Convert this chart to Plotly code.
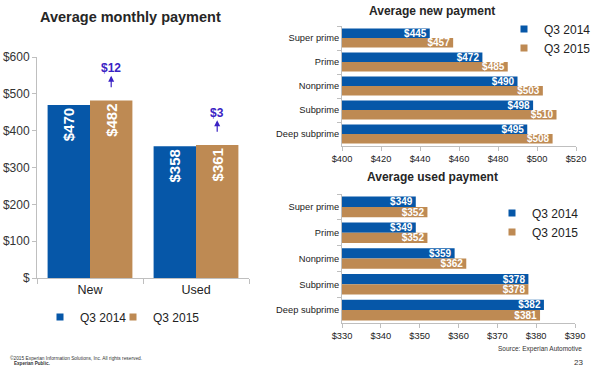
import plotly.graph_objects as go

# ---------------- data ----------------
vehicle_types = ["New", "Used"]
monthly_q3_2014 = [470, 358]
monthly_q3_2015 = [482, 361]
monthly_change = [12, 3]

tiers = ["Super prime", "Prime", "Nonprime", "Subprime", "Deep subprime"]
new_q3_2014 = [445, 472, 490, 498, 495]
new_q3_2015 = [457, 485, 503, 510, 508]
used_q3_2014 = [349, 349, 359, 378, 382]
used_q3_2015 = [352, 352, 362, 378, 381]

series_names = ["Q3 2014", "Q3 2015"]

left_ticks = [0, 100, 200, 300, 400, 500, 600]
left_ticktext = ["$"] + ["$%d" % v for v in left_ticks[1:]]

# ---------------- style ----------------
W, H = 600, 368
BLUE = "#0657A8"
BROWN = "#BE8A53"
COLORS = [BLUE, BROWN]
ARROW = "#3A22C4"
AXIS = "#BFBFBF"
TXT = "#333333"
FONT = "Arial, Liberation Sans, sans-serif"
BARGAP = 0.2


def px_x(x0, x1):
    return [x0 / W, x1 / W]


def px_y(top, bottom):
    return [1 - bottom / H, 1 - top / H]


def money(vals):
    return ["$%d" % v for v in vals]


fig = go.Figure()

# left chart
for vals, name, col in zip([monthly_q3_2014, monthly_q3_2015], series_names, COLORS):
    fig.add_trace(go.Bar(x=vehicle_types, y=vals, name=name, marker_color=col,
                         text=money(vals), textposition="inside", insidetextanchor="end",
                         textangle=-90, constraintext="none", showlegend=False,
                         textfont=dict(color="white", size=15, family=FONT, weight="bold"),
                         xaxis="x", yaxis="y", hoverinfo="skip"))

# top right chart
for vals, name, col in zip([new_q3_2014, new_q3_2015], series_names, COLORS):
    fig.add_trace(go.Bar(y=tiers, x=vals, orientation="h", name=name, marker_color=col,
                         text=money(vals), textposition="inside", insidetextanchor="end",
                         textangle=0, constraintext="none", showlegend=False,
                         textfont=dict(color="white", size=10, family=FONT, weight="bold"),
                         xaxis="x2", yaxis="y2", hoverinfo="skip"))

# bottom right chart
for vals, name, col in zip([used_q3_2014, used_q3_2015], series_names, COLORS):
    fig.add_trace(go.Bar(y=tiers, x=vals, orientation="h", name=name, marker_color=col,
                         text=money(vals), textposition="inside", insidetextanchor="end",
                         textangle=0, constraintext="none", showlegend=False,
                         textfont=dict(color="white", size=10, family=FONT, weight="bold"),
                         xaxis="x3", yaxis="y3", hoverinfo="skip"))

# legend entries (small square keys, one legend box per panel / item)
legend_assign = [("legend", "legend4"), ("legend2", "legend2"), ("legend3", "legend3")]
for xa, ya, (lg_a, lg_b) in zip(["x", "x2", "x3"], ["y", "y2", "y3"], legend_assign):
    for name, col, lg in zip(series_names, COLORS, [lg_a, lg_b]):
        fig.add_trace(go.Scatter(x=[None], y=[None], mode="markers", name=name,
                                 marker=dict(symbol="square", size=7, color=col),
                                 xaxis=xa, yaxis=ya, legend=lg, hoverinfo="skip"))

axis_common = dict(showline=True, linecolor=AXIS, linewidth=1, ticks="outside", tickcolor=AXIS,
                   showgrid=False, zeroline=False, fixedrange=True, automargin=False)

legend_common = dict(orientation="v", xanchor="left", yanchor="middle", bgcolor="rgba(0,0,0,0)",
                     traceorder="normal", itemwidth=30, font=dict(size=12, color="#222"))

fig.update_layout(
    template="none",
    width=W, height=H, autosize=False,
    margin=dict(l=0, r=0, t=0, b=0, pad=0, autoexpand=False),
    paper_bgcolor="white", plot_bgcolor="white",
    barmode="group", bargap=BARGAP, bargroupgap=0,
    font=dict(family=FONT, color=TXT),
    showlegend=True,
    xaxis=dict(domain=px_x(37, 249), anchor="y", tickson="boundaries", ticklen=5,
               tickfont=dict(size=12.5, color="#222"), **axis_common),
    yaxis=dict(domain=px_y(57, 278), anchor="x", range=[0, 600], tickvals=left_ticks,
               ticktext=left_ticktext, ticklen=4, tickfont=dict(size=12, color=TXT), **axis_common),
    xaxis2=dict(domain=px_x(342, 576), anchor="y2", range=[400, 520], dtick=20, tickprefix="$",
                ticklen=4, tickfont=dict(size=9.3, color="#222"), **axis_common),
    yaxis2=dict(domain=px_y(26, 146), anchor="x2", autorange="reversed", tickson="boundaries",
                ticklen=4, tickfont=dict(size=9.3, color="#222"), **axis_common),
    xaxis3=dict(domain=px_x(342, 575), anchor="y3", range=[330, 390], dtick=10, tickprefix="$",
                ticklen=4, tickfont=dict(size=9.3, color="#222"), **axis_common),
    yaxis3=dict(domain=px_y(194, 323), anchor="x3", autorange="reversed", tickson="boundaries",
                ticklen=4, tickfont=dict(size=9.3, color="#222"), **axis_common),
    legend=dict(x=40 / W, y=1 - 317 / H, **legend_common),
    legend4=dict(x=113 / W, y=1 - 317 / H, **legend_common),
    legend2=dict(x=504 / W, y=1 - 38.5 / H, **legend_common),
    legend3=dict(x=492 / W, y=1 - 222.5 / H, **legend_common),
)

annotations = [
    dict(text="<b>Average monthly payment</b>", x=38 / W, y=1 - 17 / H, xref="paper", yref="paper",
         xanchor="left", yanchor="middle", showarrow=False, font=dict(size=14.5, color="#262626")),
    dict(text="<b>Average new payment</b>", x=432 / W, y=1 - 11 / H, xref="paper", yref="paper",
         xanchor="center", yanchor="middle", showarrow=False, font=dict(size=12, color="#262626")),
    dict(text="<b>Average used payment</b>", x=432 / W, y=1 - 177 / H, xref="paper", yref="paper",
         xanchor="center", yanchor="middle", showarrow=False, font=dict(size=12, color="#262626")),
    dict(text="Source: Experian Automotive", x=584 / W, y=1 - 349 / H, xref="paper", yref="paper",
         xanchor="right", yanchor="middle", showarrow=False, font=dict(size=6.5, color="#333")),
    dict(text="23", x=585 / W, y=1 - 362 / H, xref="paper", yref="paper",
         xanchor="right", yanchor="middle", showarrow=False, font=dict(size=8, color="#333")),
    dict(text="©2015 Experian Information Solutions, Inc. All rights reserved.", x=8 / W, y=1 - 358 / H,
         xref="paper", yref="paper", xanchor="left", yanchor="middle", showarrow=False,
         font=dict(size=4.8, color="#333")),
    dict(text="<b>Experian Public.</b>", x=12 / W, y=1 - 363.5 / H,
         xref="paper", yref="paper", xanchor="left", yanchor="middle", showarrow=False,
         font=dict(size=4.6, color="#333")),
]

# change annotations above the Q3 2015 bars
bar_offset = (1 - BARGAP) / 4
for i, (v, d) in enumerate(zip(monthly_q3_2015, monthly_change)):
    xc = i + bar_offset
    annotations.append(dict(text="<b>$%d</b>" % d, x=xc, y=v + 88, xref="x", yref="y",
                            showarrow=False, font=dict(size=12, color=ARROW)))
    annotations.append(dict(text="", x=xc, y=v + 67, xref="x", yref="y", showarrow=True,
                            ax=0, ay=13, axref="pixel", ayref="pixel", arrowhead=2, arrowsize=1,
                            arrowwidth=1.2, arrowcolor=ARROW))

fig.update_layout(annotations=annotations)

fig.write_html("out.html", config={"displayModeBar": False},
               post_script="document.body.style.margin='0px';document.body.style.overflow='hidden';")
